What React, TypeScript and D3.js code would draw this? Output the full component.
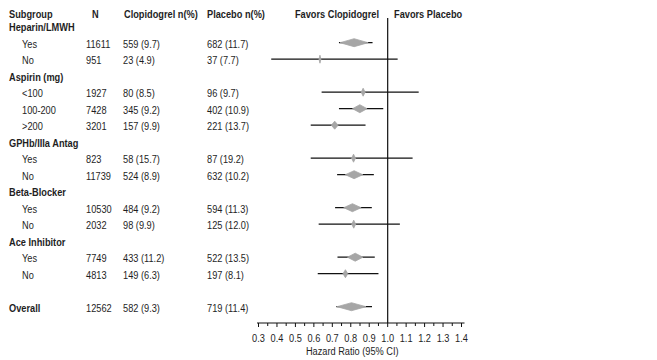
import React from "react";
import * as d3 from "d3";

// ---- data ----
const rowLabels = ["Heparin/LMWH", "Yes", "No", "Aspirin (mg)", "<100", "100-200", ">200", "GPHb/IIIa Antag", "Yes", "No", "Beta-Blocker", "Yes", "No", "Ace Inhibitor", "Yes", "No", "", "Overall"];
const rowIsHeading = [true, false, false, true, false, false, false, true, false, false, true, false, false, true, false, false, false, true];
const nValues = ["", "11611", "951", "", "1927", "7428", "3201", "", "823", "11739", "", "10530", "2032", "", "7749", "4813", "", "12562"];
const clopValues = ["", "559 (9.7)", "23 (4.9)", "", "80 (8.5)", "345 (9.2)", "157 (9.9)", "", "58 (15.7)", "524 (8.9)", "", "484 (9.2)", "98 (9.9)", "", "433 (11.2)", "149 (6.3)", "", "582 (9.3)"];
const placValues = ["", "682 (11.7)", "37 (7.7)", "", "96 (9.7)", "402 (10.9)", "221 (13.7)", "", "87 (19.2)", "632 (10.2)", "", "594 (11.3)", "125 (12.0)", "", "522 (13.5)", "197 (8.1)", "", "719 (11.4)"];
const hrEst = [null, 0.818, 0.633, null, 0.867, 0.849, 0.713, null, 0.815, 0.818, null, 0.809, 0.816, null, 0.824, 0.771, null, 0.804];
const hrLow = [null, 0.736, 0.369, null, 0.642, 0.736, 0.583, null, 0.583, 0.726, null, 0.715, 0.626, null, 0.728, 0.621, null, 0.722];
const hrHigh = [null, 0.918, 1.054, null, 1.168, 0.976, 0.880, null, 1.135, 0.925, null, 0.914, 1.066, null, 0.930, 0.950, null, 0.915];
const weights = [null, 28, 1, null, 3, 14, 6, null, 3, 17, null, 17, 3, null, 15, 4, null, 29];
const headers = ["Subgroup", "N", "Clopidogrel n(%)", "Placebo n(%)", "Favors Clopidogrel", "Favors Placebo"];
const xTicks = [0.3, 0.4, 0.5, 0.6, 0.7, 0.8, 0.9, 1.0, 1.1, 1.2, 1.3, 1.4];
const axisTitle = "Hazard Ratio (95% CI)";

const FONT = "'Liberation Sans', Arial, sans-serif";
const SX = 0.84;

function T({ x, y, anchor = "start", bold = false, size = 11, children }: any) {
  return (
    <text
      transform={`translate(${x},${y}) scale(${SX},1)`}
      textAnchor={anchor}
      fontWeight={bold ? "bold" : "normal"}
      fontSize={size}
      fill="#1e1e1e"
    >
      {children}
    </text>
  );
}

export default function App() {
  const W = 657, H = 360;
  const y = d3.scaleLinear().domain([1, 18]).range([26.2, 306.7]);
  const x = d3.scaleLinear().domain([0.3, 1.4]).range([258.5, 461.5]);
  const wScale = d3.scaleLinear().domain([0, 29]).range([0.5, 14.5]);
  const minorTicks = d3.range(0.35, 1.4, 0.1);
  const axisY = 323;

  return (
    <div style={{ position: "absolute", left: 0, top: 0 }}>
      <svg width={W} height={H} style={{ display: "block", background: "#fff" }} fontFamily={FONT}>
        {/* headers */}
        <T x={9} y={18} bold>{headers[0]}</T>
        <T x={92} y={18} bold>{headers[1]}</T>
        <T x={124} y={18} bold>{headers[2]}</T>
        <T x={207} y={18} bold>{headers[3]}</T>
        <T x={379} y={18} bold anchor="end">{headers[4]}</T>
        <T x={394} y={18} bold>{headers[5]}</T>
        {/* rows */}
        {rowLabels.map((lab, k) => {
          const yy = y(k + 1) + 5;
          return (
            <g key={k}>
              <T x={rowIsHeading[k] ? 9 : 22} y={yy} bold={rowIsHeading[k]}>{lab}</T>
              <T x={86} y={yy}>{nValues[k]}</T>
              <T x={123} y={yy}>{clopValues[k]}</T>
              <T x={207} y={yy}>{placValues[k]}</T>
            </g>
          );
        })}
        {/* reference line */}
        <line x1={x(1)} x2={x(1)} y1={18} y2={axisY} stroke="#111" strokeWidth={1.2} />
        {/* CIs and markers */}
        {rowLabels.map((lab, k) => {
          if (hrEst[k] == null) return null;
          const yy = y(k + 1);
          const cx = x(hrEst[k] as number);
          const hw = wScale(weights[k] as number);
          const hh = 4;
          return (
            <g key={"m" + k}>
              <line x1={x(hrLow[k] as number)} x2={x(hrHigh[k] as number)} y1={yy} y2={yy} stroke="#111" strokeWidth={1.3} />
              <path d={`M${cx - hw},${yy} L${cx},${yy - hh} L${cx + hw},${yy} L${cx},${yy + hh} Z`} fill="#a6a6a6" stroke="#a6a6a6" strokeWidth={0.8} />
            </g>
          );
        })}
        {/* axis */}
        <line x1={x(0.3) - 1.5} x2={x(1.4) + 3} y1={axisY} y2={axisY} stroke="#111" strokeWidth={1.2} />
        {xTicks.map((t) => (
          <g key={"t" + t}>
            <line x1={x(t)} x2={x(t)} y1={axisY} y2={axisY + 4} stroke="#111" />
            <T x={x(t)} y={axisY + 19} anchor="middle">{t.toFixed(1)}</T>
          </g>
        ))}
        {minorTicks.map((t) => (
          <line key={"mt" + t} x1={x(t)} x2={x(t)} y1={axisY} y2={axisY + 3} stroke="#111" />
        ))}
        <T x={x(0.8) + 1.5} y={axisY + 32} anchor="middle">{axisTitle}</T>
      </svg>
    </div>
  );
}
